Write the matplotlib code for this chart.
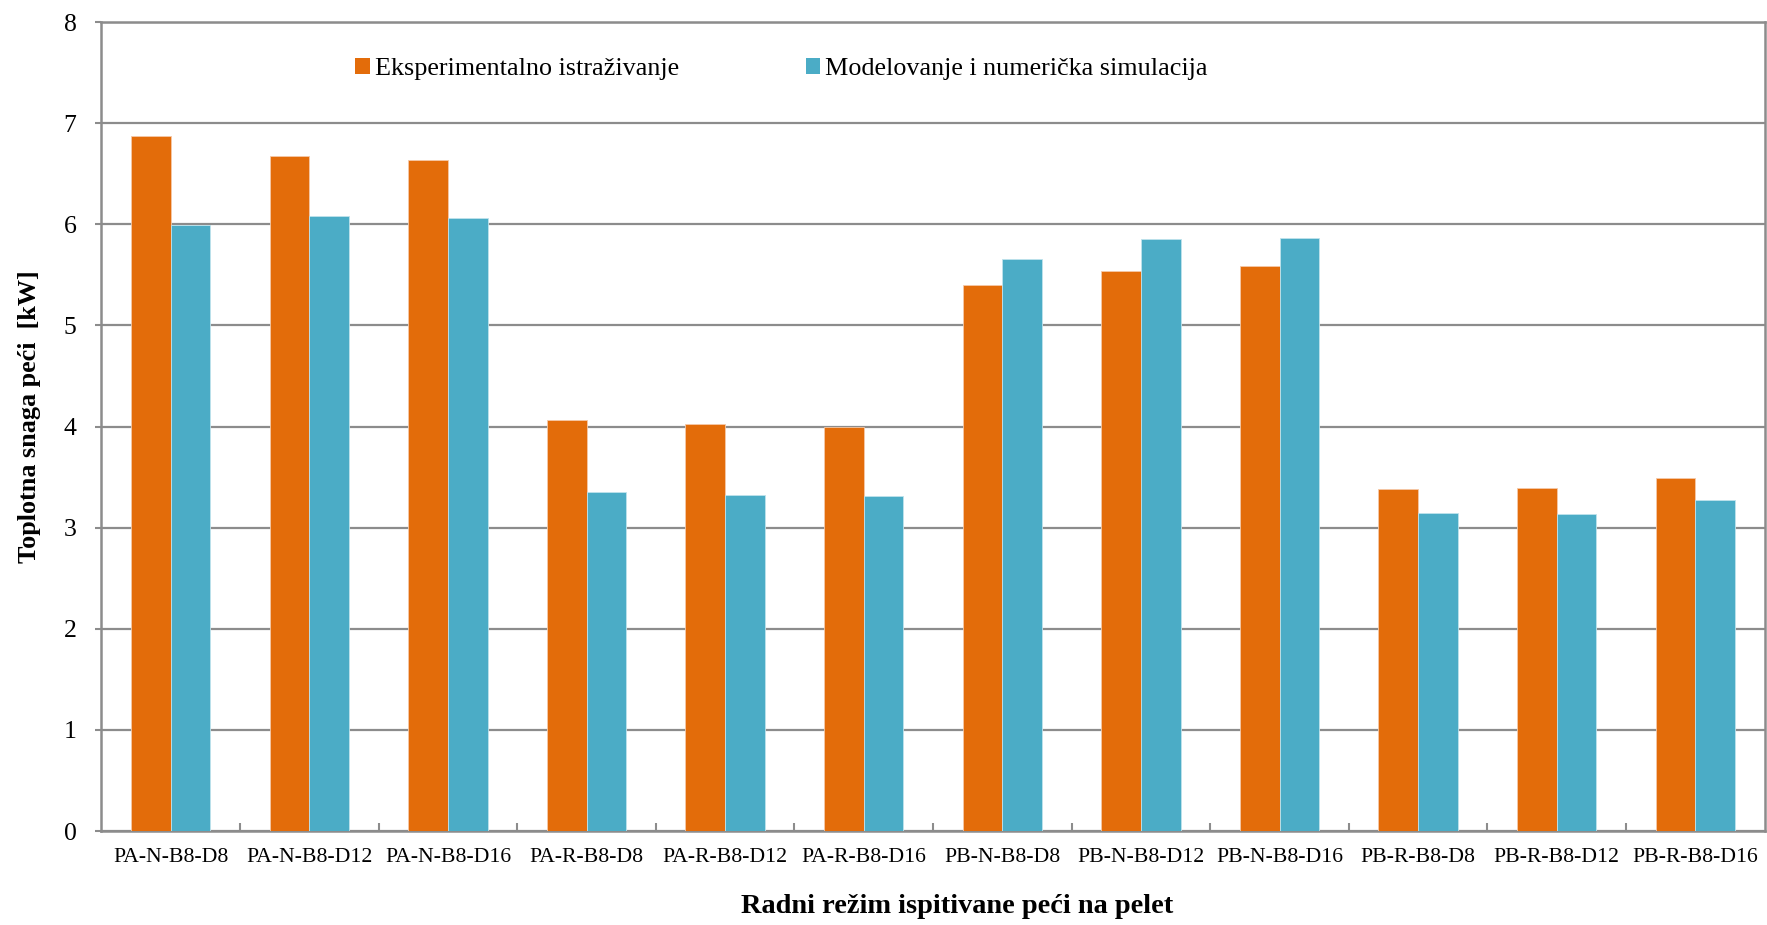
import matplotlib
matplotlib.use("Agg")
import matplotlib.pyplot as plt
import numpy as np
from matplotlib.patches import Patch

categories = ["PA-N-B8-D8", "PA-N-B8-D12", "PA-N-B8-D16", "PA-R-B8-D8", "PA-R-B8-D12",
              "PA-R-B8-D16", "PB-N-B8-D8", "PB-N-B8-D12", "PB-N-B8-D16", "PB-R-B8-D8",
              "PB-R-B8-D12", "PB-R-B8-D16"]
experimental = [6.87, 6.67, 6.64, 4.06, 4.02, 4.00, 5.40, 5.54, 5.59, 3.38, 3.39, 3.49]
simulation = [5.99, 6.08, 6.06, 3.35, 3.32, 3.31, 5.66, 5.85, 5.86, 3.14, 3.13, 3.27]
series_names = ["Eksperimentalno istraživanje", "Modelovanje i numerička simulacija"]
yticks = [0, 1, 2, 3, 4, 5, 6, 7, 8]

plt.rcParams['font.family'] = ['Liberation Serif', 'DejaVu Serif']

W, H = 1767, 925
fig = plt.figure(figsize=(W / 100, H / 100), dpi=100)
ax = fig.add_axes([101.4 / W, (H - 831) / H, (1764.6 - 101.4) / W, (831 - 22) / H])

orange = "#E36C0A"
blue = "#4BACC6"
grid_c = "#8C8C8C"

x = np.arange(len(categories))
bw = 0.286
ax.bar(x - bw / 2, experimental, width=bw, color=orange, edgecolor="#F5C9A8", linewidth=0.6,
       label=series_names[0], zorder=3)
ax.bar(x + bw / 2, simulation, width=bw, color=blue, edgecolor="#BFE3EC", linewidth=0.6,
       label=series_names[1], zorder=3)

ax.set_xlim(-0.5, len(categories) - 0.5)
ax.set_ylim(0, 8)
ax.set_yticks(yticks)
ax.set_yticklabels([str(v) for v in yticks], fontsize=18.5)
ax.yaxis.grid(True, color=grid_c, linewidth=1.6, zorder=0)
ax.tick_params(axis='y', length=4, width=1.5, color=grid_c, pad=14, direction='out')

ax.set_xticks(x)
ax.set_xticklabels(categories, fontsize=15.7)
ax.tick_params(axis='x', length=0, pad=12)
ax.set_xticks(np.arange(0.5, len(categories) - 0.5, 1), minor=True)
ax.tick_params(axis='x', which='minor', length=6, width=1.5, color=grid_c, direction='in')

for s in ax.spines.values():
    s.set_color(grid_c)
    s.set_linewidth(1.8)

ax.set_xlabel("Radni režim ispitivane peći na pelet", fontsize=20.4, fontweight='bold', labelpad=20)
ax.xaxis.label.set_x(0.5144)
ax.set_ylabel("Toplotna snaga peći  [kW]", fontsize=18.8, fontweight='bold', labelpad=16)
ax.yaxis.label.set_y(0.5117)

handles = [Patch(facecolor=orange, edgecolor='none'), Patch(facecolor=blue, edgecolor='none')]
ax.legend(handles, series_names, loc='center left',
          bbox_to_anchor=((345 - 101.4) / (1764.6 - 101.4), (831 - 69) / (831 - 22)),
          ncol=2, frameon=False, fontsize=18.8, handlelength=0.55, handleheight=0.55,
          handletextpad=0.2, columnspacing=4.85, borderaxespad=0)

fig.savefig("out.png", dpi=100, facecolor='white')
